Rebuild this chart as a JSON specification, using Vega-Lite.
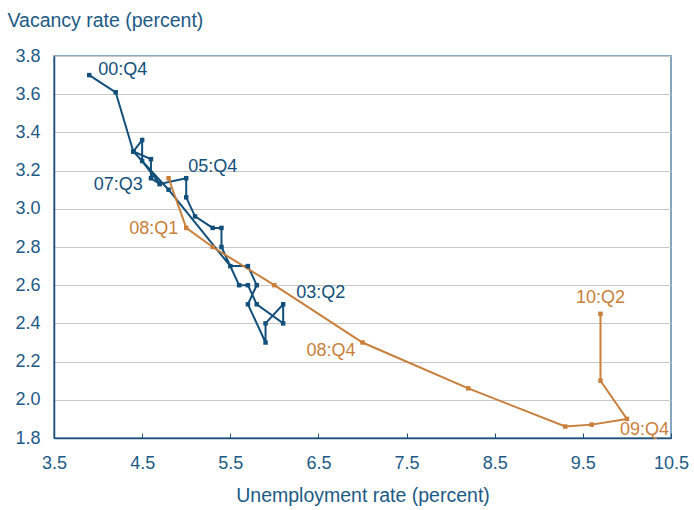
{
  "$schema": "https://vega.github.io/schema/vega-lite/v6.json",
  "width": 617,
  "height": 382,
  "autosize": "none",
  "padding": {"left": 54, "top": 56, "right": 23, "bottom": 72},
  "background": "white",
  "config": {
    "font": "Liberation Sans",
    "view": {"stroke": "#5f89aa", "strokeWidth": 1.5},
    "axis": {"labelFont": "Liberation Sans", "titleFont": "Liberation Sans", "labelColor": "#1d5a86", "titleColor": "#1d5a86", "titleFontWeight": "normal", "labelFontSize": 18, "titleFontSize": 19.5}
  },
  "data": {"values": [
    {"q": "00:Q4", "u": 3.9, "v": 3.70, "s": "a", "o": 0},
    {"q": "01:Q1", "u": 4.2, "v": 3.61, "s": "a", "o": 1},
    {"q": "01:Q2", "u": 4.4, "v": 3.30, "s": "a", "o": 2},
    {"q": "01:Q3", "u": 4.8, "v": 3.10, "s": "a", "o": 3},
    {"q": "01:Q4", "u": 5.5, "v": 2.70, "s": "a", "o": 4},
    {"q": "02:Q1", "u": 5.7, "v": 2.70, "s": "a", "o": 5},
    {"q": "02:Q2", "u": 5.8, "v": 2.60, "s": "a", "o": 6},
    {"q": "02:Q3", "u": 5.7, "v": 2.50, "s": "a", "o": 7},
    {"q": "02:Q4", "u": 5.9, "v": 2.30, "s": "a", "o": 8},
    {"q": "03:Q1", "u": 5.9, "v": 2.40, "s": "a", "o": 9},
    {"q": "03:Q2", "u": 6.1, "v": 2.50, "s": "a", "o": 10},
    {"q": "03:Q3", "u": 6.1, "v": 2.40, "s": "a", "o": 11},
    {"q": "03:Q4", "u": 5.8, "v": 2.50, "s": "a", "o": 12},
    {"q": "04:Q1", "u": 5.7, "v": 2.60, "s": "a", "o": 13},
    {"q": "04:Q2", "u": 5.6, "v": 2.60, "s": "a", "o": 14},
    {"q": "04:Q3", "u": 5.4, "v": 2.80, "s": "a", "o": 15},
    {"q": "04:Q4", "u": 5.4, "v": 2.90, "s": "a", "o": 16},
    {"q": "05:Q1", "u": 5.3, "v": 2.90, "s": "a", "o": 17},
    {"q": "05:Q2", "u": 5.1, "v": 2.96, "s": "a", "o": 18},
    {"q": "05:Q3", "u": 5.0, "v": 3.06, "s": "a", "o": 19},
    {"q": "05:Q4", "u": 5.0, "v": 3.16, "s": "a", "o": 20},
    {"q": "06:Q1", "u": 4.7, "v": 3.13, "s": "a", "o": 21},
    {"q": "06:Q2", "u": 4.6, "v": 3.16, "s": "a", "o": 22},
    {"q": "06:Q3", "u": 4.6, "v": 3.26, "s": "a", "o": 23},
    {"q": "06:Q4", "u": 4.4, "v": 3.30, "s": "a", "o": 24},
    {"q": "07:Q1", "u": 4.5, "v": 3.36, "s": "a", "o": 25},
    {"q": "07:Q2", "u": 4.5, "v": 3.25, "s": "a", "o": 26},
    {"q": "07:Q3", "u": 4.7, "v": 3.13, "s": "a", "o": 27},
    {"q": "07:Q4", "u": 4.8, "v": 3.16, "s": "b", "o": 28},
    {"q": "08:Q1", "u": 5.0, "v": 2.90, "s": "b", "o": 29},
    {"q": "08:Q2", "u": 5.3, "v": 2.80, "s": "b", "o": 30},
    {"q": "08:Q3", "u": 6.0, "v": 2.60, "s": "b", "o": 31},
    {"q": "08:Q4", "u": 7.0, "v": 2.30, "s": "b", "o": 32},
    {"q": "09:Q1", "u": 8.2, "v": 2.06, "s": "b", "o": 33},
    {"q": "09:Q2", "u": 9.3, "v": 1.86, "s": "b", "o": 34},
    {"q": "09:Q3", "u": 9.6, "v": 1.87, "s": "b", "o": 35},
    {"q": "09:Q4", "u": 10.0, "v": 1.90, "s": "b", "o": 36},
    {"q": "10:Q1", "u": 9.7, "v": 2.10, "s": "b", "o": 37},
    {"q": "10:Q2", "u": 9.7, "v": 2.45, "s": "b", "o": 38}
  ]},
  "encoding": {
    "x": {"field": "u", "type": "quantitative", "scale": {"domain": [3.5, 10.5], "nice": false, "zero": false},
      "axis": {"title": "Unemployment rate (percent)", "values": [3.5, 4.5, 5.5, 6.5, 7.5, 8.5, 9.5, 10.5], "format": ".1f", "grid": false, "labelFlush": false, "domainColor": "#1f4f78", "domainWidth": 1.5, "tickColor": "#1f4f78", "tickSize": -5, "labelPadding": 21, "titlePadding": 14}},
    "y": {"field": "v", "type": "quantitative", "scale": {"domain": [1.8, 3.8], "nice": false, "zero": false},
      "axis": {"title": "Vacancy rate (percent)", "values": [1.8, 2.0, 2.2, 2.4, 2.6, 2.8, 3.0, 3.2, 3.4, 3.6, 3.8], "format": ".1f", "grid": true, "labelFlush": false, "gridColor": "#c8c8c8", "gridWidth": 1, "ticks": false, "domainColor": "#1f4f78", "domainWidth": 1.5, "labelPadding": 14, "titleAngle": 0, "titleAlign": "left", "titleBaseline": "middle", "titleX": -47, "titleY": -36}},
    "color": {"field": "s", "type": "nominal", "scale": {"domain": ["a", "b"], "range": ["#134f7b", "#c97f3b"]}, "legend": null},
    "order": {"field": "o", "type": "quantitative"}
  },
  "layer": [
    {"mark": {"type": "line", "strokeWidth": 2}},
    {"mark": {"type": "point", "shape": "square", "filled": true, "size": 20, "opacity": 1}},
    {"transform": [{"filter": "datum.q == '00:Q4'"}], "mark": {"type": "text", "align": "left", "baseline": "middle", "dx": 9, "dy": -5, "fontSize": 18}, "encoding": {"text": {"field": "q"}, "color": {"value": "#134f7b"}}},
    {"transform": [{"filter": "datum.q == '05:Q4'"}], "mark": {"type": "text", "align": "left", "baseline": "middle", "dx": 2, "dy": -11, "fontSize": 18}, "encoding": {"text": {"field": "q"}, "color": {"value": "#134f7b"}}},
    {"transform": [{"filter": "datum.q == '07:Q3'"}], "mark": {"type": "text", "align": "right", "baseline": "middle", "dx": -17, "dy": 1, "fontSize": 18}, "encoding": {"text": {"field": "q"}, "color": {"value": "#134f7b"}}},
    {"transform": [{"filter": "datum.q == '03:Q2'"}], "mark": {"type": "text", "align": "left", "baseline": "middle", "dx": 13, "dy": -11, "fontSize": 18}, "encoding": {"text": {"field": "q"}, "color": {"value": "#134f7b"}}},
    {"transform": [{"filter": "datum.q == '08:Q1'"}], "mark": {"type": "text", "align": "right", "baseline": "middle", "dx": -8, "dy": 1, "fontSize": 18}, "encoding": {"text": {"field": "q"}, "color": {"value": "#c97f3b"}}},
    {"transform": [{"filter": "datum.q == '08:Q4'"}], "mark": {"type": "text", "align": "right", "baseline": "middle", "dx": -7, "dy": 8, "fontSize": 18}, "encoding": {"text": {"field": "q"}, "color": {"value": "#c97f3b"}}},
    {"transform": [{"filter": "datum.q == '10:Q2'"}], "mark": {"type": "text", "align": "center", "baseline": "middle", "dx": 0, "dy": -16, "fontSize": 18}, "encoding": {"text": {"field": "q"}, "color": {"value": "#c97f3b"}}},
    {"transform": [{"filter": "datum.q == '09:Q4'"}], "mark": {"type": "text", "align": "left", "baseline": "middle", "dx": -7, "dy": 11, "fontSize": 18}, "encoding": {"text": {"field": "q"}, "color": {"value": "#c97f3b"}}}
  ]
}
